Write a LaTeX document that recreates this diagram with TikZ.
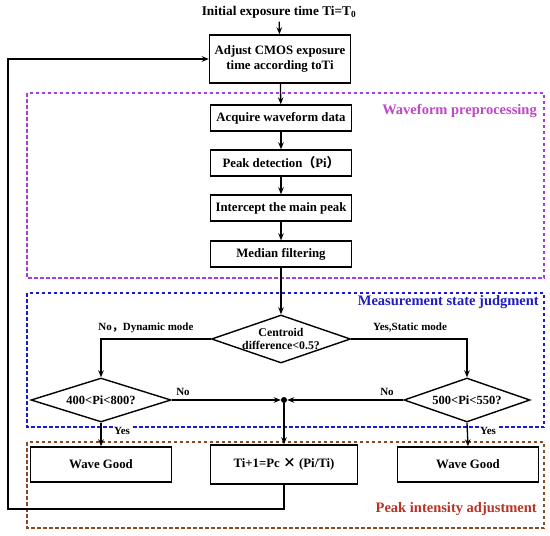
\documentclass[tikz,border=0pt]{standalone}
\usepackage{fontspec}
\setmainfont{Liberation Serif}
\newfontfamily\cjk{Noto Sans CJK SC}
\usetikzlibrary{shapes.geometric,arrows.meta}
\definecolor{pdash}{RGB}{170,60,220}
\definecolor{plab}{RGB}{190,70,200}
\definecolor{bdash}{RGB}{25,25,205}
\definecolor{blab}{RGB}{30,30,190}
\definecolor{rdash}{RGB}{140,75,30}
\definecolor{rlab}{RGB}{185,50,35}
\tikzset{
  box/.style={draw, line width=1.4pt, inner sep=0pt, align=center,
    font=\bfseries\fontsize{12.8}{15}\selectfont},
  dia/.style={draw, diamond, line width=1.4pt, inner sep=0pt},
  diatext/.style={align=center, font=\bfseries\fontsize{12.5}{14}\selectfont},
  small/.style={font=\bfseries\fontsize{11}{13}\selectfont, inner sep=1pt},
  conn/.style={line width=1.3pt},
  arr/.style={conn, -{Stealth[length=7pt,width=5.5pt]}},
  region/.style={line width=1.9pt, dash pattern=on 3.5pt off 2.5pt},
  reglab/.style={anchor=east, font=\bfseries\fontsize{14.5}{17}\selectfont, inner sep=1pt}
}
\begin{document}
\begin{tikzpicture}[x=1pt,y=-1pt]
\useasboundingbox (0,0) rectangle (550,536);
% regions
\draw[region, pdash] (27,93) rectangle (544,278);
\draw[region, bdash] (27,293) rectangle (544,427);
\draw[region, rdash] (27,442) rectangle (544,528);
\node[reglab, text=plab] (lw) at (538,111) {Waveform preprocessing};
\node[reglab, text=blab, fill=white] (lm) at (540,302) {Measurement state judgment};
\node[reglab, text=rlab] (lp) at (538,509) {Peak intensity adjustment};
% nodes
\node[font=\bfseries\fontsize{13.3}{15}\selectfont] (title) at (279,12) {Initial exposure time Ti=T\textsubscript{0}};
\node[box, minimum width=141, minimum height=48] (adj) at (280,59) {Adjust CMOS exposure\\time according toTi};
\node[box, minimum width=141, minimum height=26] (acq) at (281,118) {Acquire waveform data};
\node[box, minimum width=141, minimum height=26] (peak) at (281,163) {Peak detection{\cjk\bfseries （}Pi{\cjk\bfseries ）}};
\node[box, minimum width=141, minimum height=26] (int) at (281,208) {Intercept the main peak};
\node[box, minimum width=141, minimum height=26] (med) at (281,254) {Median filtering};
\node[dia, minimum width=139, minimum height=48] (d1) at (281,339) {};
\node[diatext, font=\bfseries\fontsize{11.8}{13.5}\selectfont] (d1t) at (d1) {Centroid\\difference<0.5?};
\node[dia, minimum width=140, minimum height=44] (d2) at (101,400) {};
\node[diatext] (d2t) at (d2) {400<Pi<800?};
\node[dia, minimum width=126, minimum height=44] (d3) at (467,400) {};
\node[diatext] (d3t) at (d3) {500<Pi<550?};
\node[circle, fill=black, inner sep=0pt, minimum size=6pt] (dot) at (284,400) {};
\node[box, minimum width=141, minimum height=35] (wg1) at (101,464.5) {Wave Good};
\node[box, minimum width=147, minimum height=39] (ti) at (284,464.5) {Ti+1=Pc {\cjk\bfseries ×} (Pi/Ti)};
\node[box, minimum width=141, minimum height=35] (wg2) at (468,464.5) {Wave Good};
% connectors
\draw[arr] (title) -- (adj);
\draw[arr] (adj) -- (acq);
\draw[arr] (acq) -- (peak);
\draw[arr] (peak) -- (int);
\draw[arr] (int) -- (med);
\draw[arr] (med) -- (d1);
\draw[arr] (d1.west) -| (d2.north);
\draw[arr] (d1.east) -| (d3.north);
\draw[arr] (d2.east) -- (dot);
\draw[arr] (d3.west) -- (dot);
\draw[arr] (dot) -- (ti);
\draw[arr] (d2.south) -- (wg1.north);
\draw[arr] (d3.south) -- (wg2.north);
\coordinate (lb) at (8,509);
\draw[arr] (ti.south) |- (lb) |- (adj.west);
% labels
\node[small] (lno1) at (146,328) {No{\cjk\bfseries ，}Dynamic mode};
\node[small] (lyes1) at (410,328) {Yes,Static mode};
\node[small] (lno2) at (183,392) {No};
\node[small] (lno3) at (387,392) {No};
\node[small, fill=white] (lyes2) at (122,431) {Yes};
\node[small, fill=white] (lyes3) at (488,431) {Yes};
\end{tikzpicture}
\end{document}
